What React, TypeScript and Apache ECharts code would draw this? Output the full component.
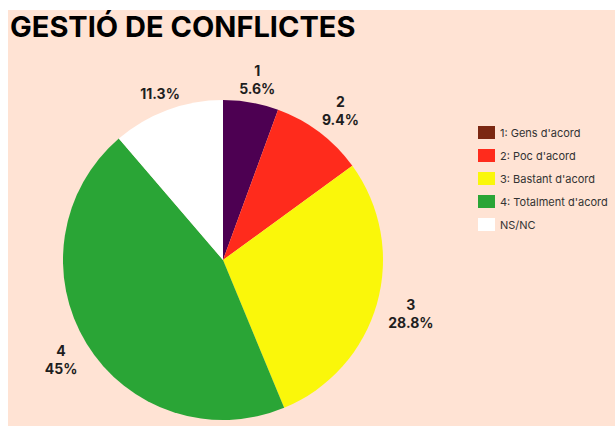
import React, { useEffect, useRef } from "react";
import * as echarts from "echarts";

const categories = ["1: Gens d'acord", "2: Poc d'acord", "3: Bastant d'acord", "4: Totalment d'acord", "NS/NC"];
const shortLabels = ["1", "2", "3", "4", ""];
const values = [5.6, 9.4, 28.8, 45, 11.3];
const percentLabels = ["5.6%", "9.4%", "28.8%", "45%", "11.3%"];
const sliceColors = ["#4D0052", "#FF2B1C", "#FAF70A", "#2AA536", "#FFFFFF"];
const legendColors = ["#7B2812", "#FF2B1C", "#FAF70A", "#2AA536", "#FFFFFF"];
const labelOffsets = [[1, 7], [3, 2], [5, 2], [0, 0], [3, 12]];

export default function App() {
  const ref = useRef<HTMLDivElement>(null);
  useEffect(() => {
    document.body.style.margin = "0";
    const chart = echarts.init(ref.current!, null, { renderer: "svg" });
    const labelRing = {
      type: "pie",
      center: [223, 260],
      radius: [160, 214],
      startAngle: 90,
      silent: true,
      z: 1,
      itemStyle: { color: "rgba(0,0,0,0)" },
      label: {
        show: true,
        position: "inside",
        fontFamily: "Inter",
        fontSize: 14,
        fontWeight: "bold",
        color: "#1E1E1E",
        lineHeight: 18,
        formatter: (p: any) => {
          const i = p.dataIndex;
          return shortLabels[i] ? shortLabels[i] + "\n" + percentLabels[i] : percentLabels[i];
        },
      },
      labelLine: { show: false },
      data: categories.map((c, i) => ({ name: c, value: values[i], label: { offset: labelOffsets[i] } })),
    };
    chart.setOption({
      animation: false,
      graphic: [
        { type: "rect", shape: { x: 8, y: 10, width: 607, height: 416 }, style: { fill: "#FFE3D4" }, z: -10 },
        {
          type: "text",
          left: 10,
          top: 12,
          style: { text: "GESTIÓ DE CONFLICTES", fontFamily: "Inter", fontWeight: "bold", fontSize: 29, fill: "#000" },
        },
      ],
      legend: {
        orient: "vertical",
        left: 473,
        top: 121,
        itemWidth: 17,
        itemHeight: 13,
        itemGap: 10,
        icon: "rect",
        textStyle: { fontFamily: "Inter", fontSize: 11, color: "#333" },
        data: categories.map((c, i) => ({ name: c, itemStyle: { color: legendColors[i], borderWidth: 0 } })),
      },
      series: [
        {
          type: "pie",
          center: [223, 260],
          radius: [0, 160],
          startAngle: 90,
          z: 2,
          label: { show: false },
          labelLine: { show: false },
          emphasis: { disabled: true },
          data: categories.map((c, i) => ({ name: c, value: values[i], itemStyle: { color: sliceColors[i] } })),
        },
        labelRing,
      ],
    });
    return () => chart.dispose();
  }, []);
  return <div ref={ref} style={{ width: 615, height: 430 }} />;
}
